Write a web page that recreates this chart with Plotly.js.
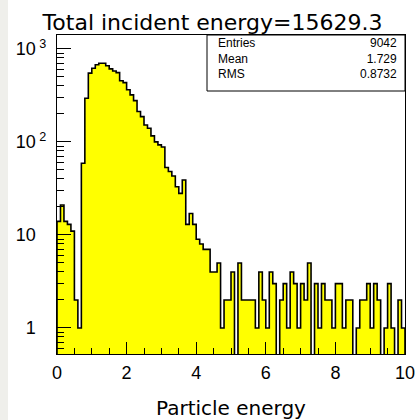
<!DOCTYPE html>
<html>
<head>
<meta charset="utf-8">
<script src="https://cdn.plot.ly/plotly-3.0.1.min.js"></script>
<style>
  html, body { margin: 0; padding: 0; background: #ffffff; }
  #chart { width: 420px; height: 420px; }
</style>
</head>
<body>
<div id="chart"></div>
<script>
// Histogram binning: 100 bins of width 0.1 from 0 to 10
const binStart = 0;
const binWidth = 0.1;

// Counts per bin
const counts = [
  14, 21, 14, 13, 11, 2, 1,
  59, 295, 549, 620, 675, 702, 700, 658, 610, 578, 556, 455, 434, 364,
  320, 278, 212, 187, 152, 140, 116, 100, 93, 88, 53, 48, 43, 33, 28, 39,
  13, 17, 13, 9, 8, 7, 7, 4, 4, 5, 1, 2, 2, 4, 0, 5, 2, 2, 2, 2,
  1, 4, 2, 1, 4, 3, 0, 2, 3, 1, 4, 3, 1, 3, 2, 5, 0, 3, 1, 3,
  2, 2, 1, 3, 3, 1, 2, 2, 0, 1, 2, 2, 3, 1, 3, 2, 0, 1, 3, 1,
  0, 2, 1
];

// Statistics box
const statLabels = ['Entries', 'Mean', 'RMS'];
const statValues = ['9042', '1.729', '0.8732'];

// Axis labels
const xTickVals = [0, 2, 4, 6, 8, 10];
const xTickText = ['0', '2', '4', '6', '8', '10'];
const yTickVals = [1, 10, 100, 1000];
// the exponent sits to the right of the aligned mantissa; plain labels get an invisible pad
const hiddenPad = '<span style="color:rgba(0,0,0,0)"><sup> 0</sup></span>';
const yTickText = ['1' + hiddenPad, '10' + hiddenPad, '10<sup> 2</sup>', '10<sup> 3</sup>'];

const titleText = 'Total incident energy=15629.3';
const xTitleText = 'Particle energy';

// Bin centres for the filled bars
const centers = counts.map((_, i) => binStart + (i + 0.5) * binWidth);
const barY = counts.map(c => (c > 0 ? c : null));

// Step outline; empty bins drop below the visible range
const floorVal = 0.1;
const stepX = [binStart];
const stepY = [floorVal];
counts.forEach((c, i) => {
  stepX.push(binStart + i * binWidth);
  stepY.push(c > 0 ? c : floorVal);
});
const binEnd = binStart + counts.length * binWidth;
stepX.push(binEnd, binEnd);
stepY.push(counts[counts.length - 1] || floorVal, floorVal);

// Log minor ticks 2..9 per decade
const yMinor = [];
for (let d = -1; d <= 3; d++) {
  for (let m = 2; m <= 9; m++) yMinor.push(m * Math.pow(10, d));
}

const fill = {
  type: 'bar',
  x: centers,
  y: barY,
  width: binWidth,
  marker: { color: '#ffff00', line: { width: 0 } },
  hoverinfo: 'skip'
};

const outline = {
  type: 'scatter',
  mode: 'lines',
  x: stepX,
  y: stepY,
  line: { shape: 'hv', color: '#000000', width: 1.6 },
  hoverinfo: 'skip'
};

// Plot frame in pixel terms
const W = 420, H = 420;
const L = 57, R = 405, T = 35, B = 354;
const px = x => (x - L) / (R - L);
const py = y => (B - y) / (B - T);

// Statistics text: one block of names, one block of values
const statFont = { family: 'Liberation Sans, Arial, sans-serif', size: 12, color: '#000' };
const annotations = [
  {
    xref: 'paper', yref: 'paper', x: px(216), y: py(58.5),
    xanchor: 'left', yanchor: 'middle', align: 'left', showarrow: false,
    text: statLabels.join('<br>'), font: statFont
  },
  {
    xref: 'paper', yref: 'paper', x: px(399), y: py(58.5),
    xanchor: 'right', yanchor: 'middle', align: 'right', showarrow: false,
    text: statValues.join('<br>'), font: statFont
  }
];

const layout = {
  width: W, height: H,
  margin: { l: L, r: W - R, t: T, b: H - B, pad: 0 },
  paper_bgcolor: '#ffffff',
  plot_bgcolor: '#ffffff',
  showlegend: false,
  bargap: 0,
  title: {
    text: titleText,
    font: { family: 'DejaVu Sans, sans-serif', size: 22, color: '#000' },
    xref: 'container', yref: 'container',
    x: 212.5 / W, y: 1 - 22 / H, xanchor: 'center', yanchor: 'middle'
  },
  xaxis: {
    range: [0, 10],
    tickmode: 'array', tickvals: xTickVals, ticktext: xTickText,
    ticks: 'inside', ticklen: 12, tickwidth: 1, tickcolor: '#000',
    minor: { dtick: 0.5, ticks: 'inside', ticklen: 6, tickwidth: 1, tickcolor: '#000', showgrid: false },
    showgrid: false, zeroline: false,
    showline: true, mirror: true, linecolor: '#000', linewidth: 1,
    ticklabelstandoff: 2,
    tickfont: { family: 'Liberation Sans, Arial, sans-serif', size: 18, color: '#000' },
    title: {
      text: xTitleText,
      font: { family: 'DejaVu Sans, sans-serif', size: 20, color: '#000' },
      standoff: 22
    }
  },
  yaxis: {
    type: 'log',
    range: [Math.log10(0.525), Math.log10(1410)],
    tickmode: 'array', tickvals: yTickVals, ticktext: yTickText,
    ticks: 'inside', ticklen: 14, tickwidth: 1, tickcolor: '#000',
    minor: { tickmode: 'array', tickvals: yMinor, ticks: 'inside', ticklen: 7, tickwidth: 1, tickcolor: '#000', showgrid: false },
    showgrid: false, zeroline: false,
    showline: true, mirror: true, linecolor: '#000', linewidth: 1,
    ticklabelstandoff: 6,
    tickfont: { family: 'Liberation Sans, Arial, sans-serif', size: 18, color: '#000' }
  },
  shapes: [
    // grey strip along the left edge of the canvas
    { type: 'rect', xref: 'paper', yref: 'paper', layer: 'below',
      x0: px(0), x1: px(8), y0: py(H), y1: py(0),
      fillcolor: '#efefeb', line: { width: 0 } },
    // statistics box
    { type: 'rect', xref: 'paper', yref: 'paper', layer: 'above',
      x0: px(207), x1: 1, y0: py(91), y1: 1,
      fillcolor: '#ffffff', line: { color: '#000', width: 1 } }
  ],
  annotations: annotations
};

Plotly.newPlot('chart', [fill, outline], layout, { staticPlot: true, displayModeBar: false });
</script>
</body>
</html>
